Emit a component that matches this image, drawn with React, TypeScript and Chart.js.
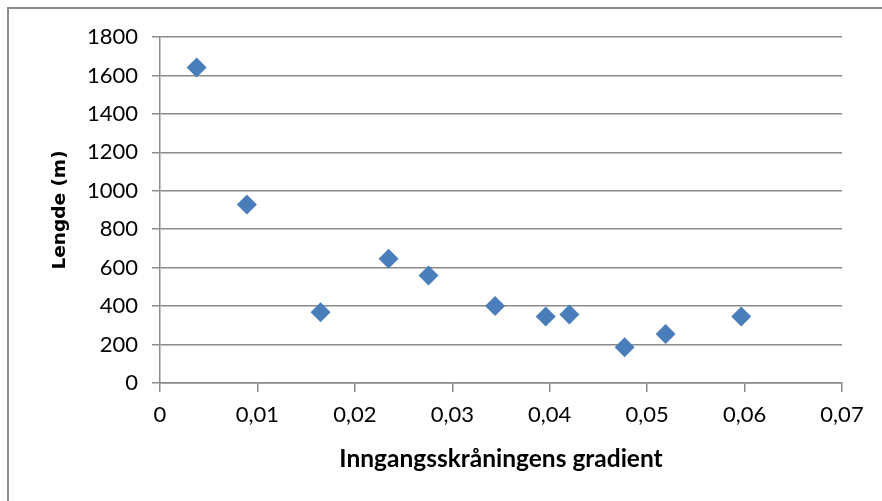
import React, { useEffect, useRef } from "react";
import { Chart, registerables } from "chart.js";

Chart.register(...registerables);

const gradient = [0.00376, 0.00892, 0.01648, 0.02346, 0.02756, 0.03439, 0.03959, 0.04202, 0.04769, 0.0519, 0.05966];
const lengde = [1641, 929, 368, 646, 559, 400, 346, 356, 186, 255, 346];
const xTitle = "Inngangsskråningens gradient";
const yTitle = "Lengde (m)";

const GRID = "#8a8a8a";
const FONT = "Lato, 'Open Sans', sans-serif";

export default function App() {
  const ref = useRef<HTMLCanvasElement>(null);
  useEffect(() => {
    document.body.style.overflow = "hidden";
    const ctx = ref.current!;
    const chart = new Chart(ctx, {
      type: "scatter",
      data: {
        datasets: [
          {
            label: yTitle,
            data: gradient.map((g, i) => ({ x: g, y: lengde[i] })),
            pointStyle: "rectRot",
            pointRadius: 10,
            pointHoverRadius: 10,
            backgroundColor: "#4a7ebb",
            borderColor: "#4a7ebb",
            borderWidth: 0,
          },
        ],
      },
      options: {
        animation: false,
        responsive: false,
        maintainAspectRatio: false,
        layout: { padding: { left: 0, right: 40, top: 37, bottom: 0 } },
        plugins: { legend: { display: false }, tooltip: { enabled: false } },
        scales: {
          x: {
            type: "linear",
            min: 0,
            max: 0.07,
            afterFit: (s: any) => {
              s.height = 118;
            },
            ticks: {
              stepSize: 0.01,
              color: "#000",
              font: { family: FONT, size: 22 },
              padding: 10,
              callback: (v: any) => (v === 0 ? "0" : Number(v).toFixed(2).replace(".", ",")),
            },
            grid: {
              drawOnChartArea: false,
              drawTicks: true,
              tickLength: 9,
              color: GRID,
              lineWidth: 1.5,
            },
            border: { display: true, color: GRID, width: 1.5 },
            title: {
              display: true,
              text: xTitle,
              color: "#000",
              font: { family: FONT, size: 24.5, weight: "bold" },
              padding: { top: 14, bottom: 27 },
            },
          },
          y: {
            min: 0,
            max: 1800,
            afterFit: (s: any) => {
              s.width = 160;
            },
            ticks: {
              stepSize: 200,
              color: "#000",
              font: { family: FONT, size: 22 },
              padding: 14,
              callback: (v: any) => String(v),
            },
            grid: {
              color: GRID,
              lineWidth: 1.5,
              tickLength: 8,
            },
            border: { display: true, color: GRID, width: 1.5 },
            title: {
              display: true,
              text: yTitle,
              color: "#000",
              font: { family: "'DejaVu Sans', sans-serif", size: 18.5, weight: "bold" },
              padding: { top: 49, bottom: 0 },
            },
          },
        },
      },
    });
    return () => chart.destroy();
  }, []);
  return (
    <div style={{ position: "fixed", left: 0, top: 0, width: 882, height: 501, background: "#fff" }}>
      <div
        style={{
          position: "absolute",
          left: 7,
          top: 7,
          width: 900,
          height: 600,
          border: "2px solid #8a8a8a",
          boxSizing: "border-box",
        }}
      />
      <canvas ref={ref} width={882} height={501} style={{ position: "absolute", left: 0, top: 0 }} />
    </div>
  );
}
